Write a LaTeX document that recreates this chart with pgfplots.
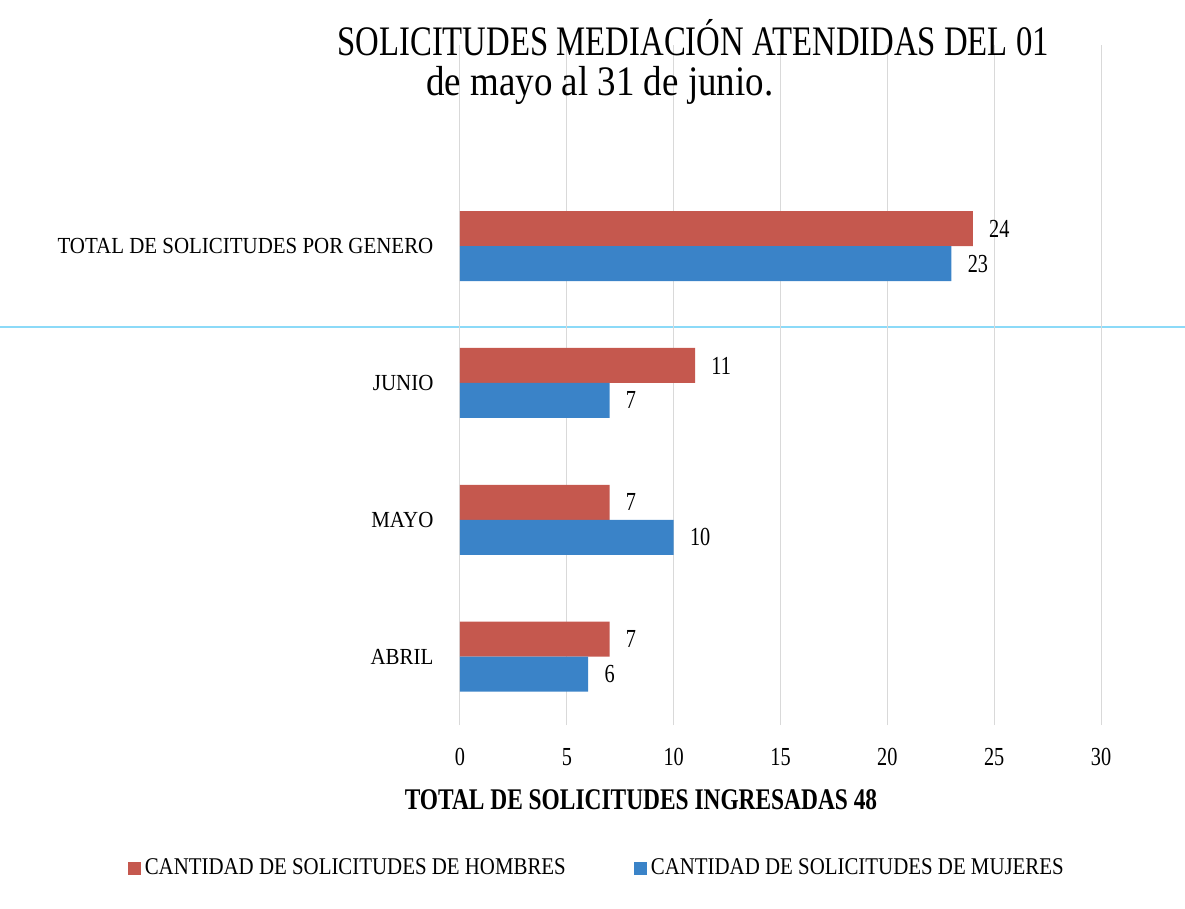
\documentclass[border=0pt]{standalone}
\usepackage{fontspec}
\setmainfont{Liberation Serif}[FakeStretch=0.78]
\newfontfamily\subfont{Liberation Serif}[FakeStretch=0.88]
\newfontfamily\catfont{Liberation Serif}[FakeStretch=0.91]
\newfontfamily\legfont{Liberation Serif}[FakeStretch=0.87]
\newfontfamily\boldcond{Liberation Serif}[FakeStretch=0.78]
\usepackage{pgfplots}
\pgfplotsset{compat=1.18}
\definecolor{hred}{RGB}{197,88,78}
\definecolor{mblue}{RGB}{58,131,200}
\begin{document}
\begin{tikzpicture}
\useasboundingbox (0,0) rectangle (592.5pt,-454.5pt);
\draw[cyan!45, line width=0.6pt] (0,-163.5pt) -- (592.5pt,-163.5pt);
\begin{axis}[
  at={(230pt,-362.5pt)}, anchor=south west,
  scale only axis, width=320.5pt, height=340pt,
  xbar, bar width=17.5pt,
  xmin=0, xmax=30, xtick={0,5,...,30},
  ymin=-0.5, ymax=4.47, ytick={0,1,2,3},
  yticklabels={ABRIL,MAYO,JUNIO,TOTAL DE SOLICITUDES POR GENERO},
  axis line style={draw=none}, tick style={draw=none},
  xmajorgrids, grid style={gray!30, line width=0.5pt},
  /pgf/number format/assume math mode=true,
  xticklabel style={font=\fontsize{13}{15}\selectfont, yshift=-8pt},
  yticklabel style={font=\catfont\fontsize{11.5}{14}\selectfont, xshift=-5.5pt},
  nodes near coords,
  nodes near coords style={font=\fontsize{13}{15}\selectfont, anchor=west, inner sep=0pt, xshift=8pt},
  legend style={at={(rel axis cs:0.215,-0.21)}, anchor=center, draw=none, legend columns=2,
    font=\legfont\fontsize{12}{14}\selectfont, /tikz/every even column/.append style={column sep=32pt}},
  legend image code/.code={\fill[#1] (0pt,-3.5pt) rectangle (6.5pt,3pt);},
]
\addplot[fill=hred, draw=none, bar shift=8.75pt] coordinates {(7,0) (7,1) (11,2) (24,3)};
\addplot[fill=mblue, draw=none, bar shift=-8.75pt] coordinates {(6,0) (10,1) (7,2) (23,3)};
\legend{CANTIDAD DE SOLICITUDES DE HOMBRES, CANTIDAD DE SOLICITUDES DE MUJERES}
\end{axis}
\node[anchor=base west, inner sep=0pt, font=\fontsize{21}{25}\selectfont] at (168.5pt,-28pt) {SOLICITUDES MEDIACIÓN ATENDIDAS DEL 01};
\node[anchor=base west, inner sep=0pt, font=\subfont\fontsize{21}{25}\selectfont] at (213pt,-48pt) {de mayo al 31 de junio.};
\node[inner sep=0pt, font=\boldcond\bfseries\fontsize{15}{18}\selectfont] at (320.5pt,-400pt) {TOTAL DE SOLICITUDES INGRESADAS 48};
\end{tikzpicture}
\end{document}
